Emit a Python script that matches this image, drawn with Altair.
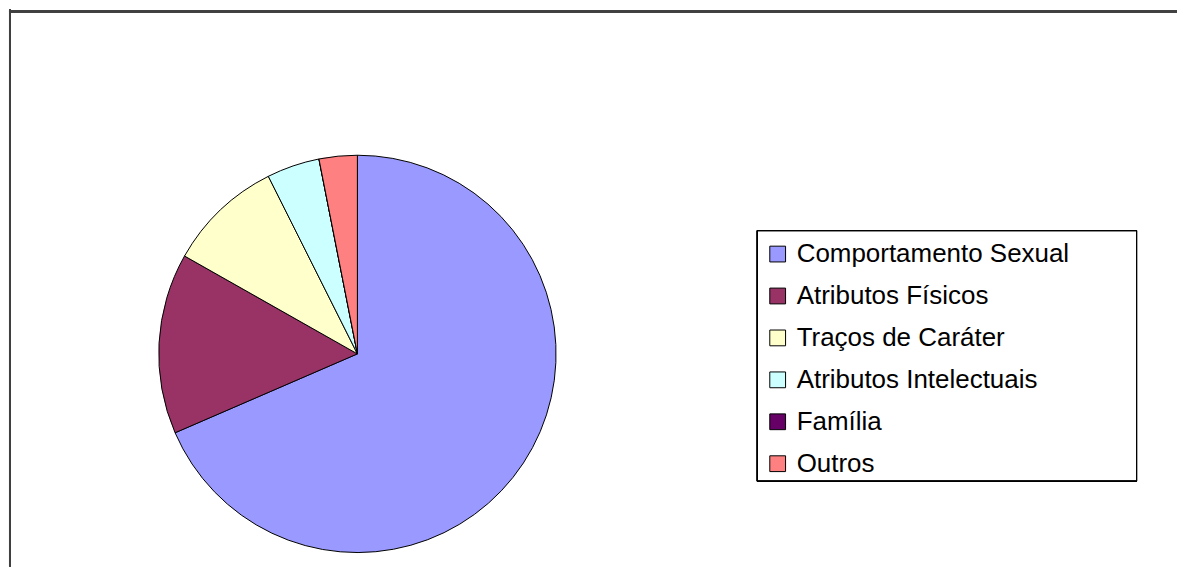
import altair as alt
import pandas as pd

categories = ["Comportamento Sexual", "Atributos Físicos", "Traços de Caráter",
              "Atributos Intelectuais", "Família", "Outros"]
values = [68.5, 14.7, 9.4, 4.3, 0.0, 3.1]
colors = ["#9999FF", "#993366", "#FFFFCC", "#CCFFFF", "#660066", "#FF8080"]

df = pd.DataFrame({"cat": categories, "val": values, "idx": list(range(len(categories)))})

W, H = 1170, 558

pie = alt.Chart(df).mark_arc(radius=199, stroke="black", strokeWidth=1).encode(
    theta=alt.Theta("val:Q", stack=True),
    order=alt.Order("idx:Q"),
    color=alt.Color(
        "cat:N",
        sort=categories,
        scale=alt.Scale(domain=categories, range=colors),
        legend=alt.Legend(
            title=None,
            orient="none",
            legendX=757,
            legendY=232,
            symbolType="square",
            symbolSize=250,
            symbolStrokeColor="black",
            symbolStrokeWidth=1,
            labelFont="Liberation Sans",
            labelFontSize=26,
            labelColor="black",
            labelOffset=6,
            rowPadding=16,
            labelLimit=400,
        ),
    ),
    x=alt.value(349),
    y=alt.value(345),
)

box = alt.Chart(df).mark_rect(fill=None, stroke="black", strokeWidth=1).encode(
    x=alt.value(749.5), x2=alt.value(1129.5), y=alt.value(221.5), y2=alt.value(472.5)
)

top_line = alt.Chart(df).mark_rule(color="#404040", strokeWidth=2).encode(
    x=alt.value(0), x2=alt.value(W), y=alt.value(2)
)
left_line = alt.Chart(df).mark_rule(color="#404040", strokeWidth=2).encode(
    x=alt.value(1), y=alt.value(0), y2=alt.value(H)
)

chart = alt.layer(box, pie, top_line, left_line).properties(
    width=W, height=H, padding=0, background="white"
).configure_view(stroke=None)

chart.save("out.html", embed_options={"renderer": "svg", "actions": False})
